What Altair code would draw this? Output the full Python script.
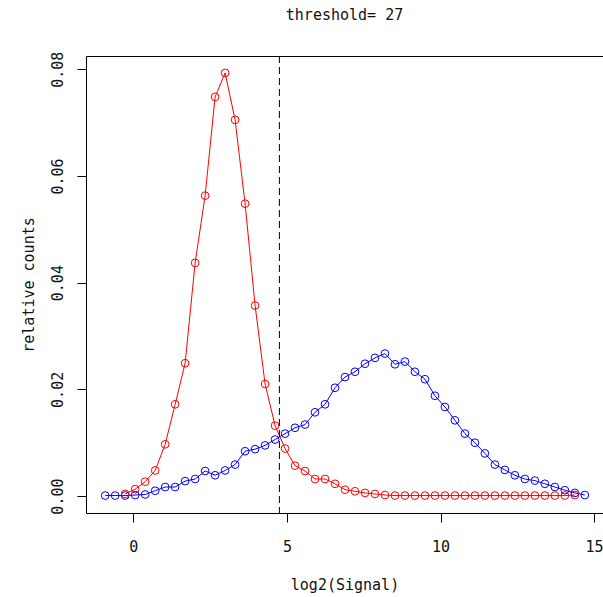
import altair as alt
import pandas as pd

# log2(Signal) bin positions (shared grid for both curves)
x_grid = [-0.916, -0.591, -0.265, 0.060, 0.385, 0.711, 1.036, 1.361, 1.686, 2.012,
          2.337, 2.662, 2.988, 3.313, 3.638, 3.964, 4.289, 4.614, 4.939, 5.265,
          5.590, 5.915, 6.241, 6.566, 6.891, 7.217, 7.542, 7.867, 8.192, 8.518,
          8.843, 9.168, 9.494, 9.819, 10.144, 10.470, 10.795, 11.120, 11.445, 11.771,
          12.096, 12.421, 12.747, 13.072, 13.397, 13.723, 14.048, 14.373, 14.698]

blue_counts = [0.0001, 0.0001, 0.0001, 0.0002, 0.0003, 0.0010, 0.0017, 0.0017, 0.0028, 0.0032,
               0.0047, 0.0039, 0.0048, 0.0059, 0.0084, 0.0088, 0.0095, 0.0106, 0.0117, 0.0128,
               0.0134, 0.0157, 0.0172, 0.0203, 0.0223, 0.0233, 0.0248, 0.0259, 0.0267, 0.0247,
               0.0252, 0.0233, 0.0219, 0.0188, 0.0167, 0.0142, 0.0117, 0.0100, 0.0080, 0.0059,
               0.0049, 0.0039, 0.0032, 0.0029, 0.0023, 0.0017, 0.0011, 0.0006, 0.0002]

# red curve starts at the third grid position and ends at the second-to-last one
red_x = x_grid[2:48]
red_counts = [0.0004, 0.0013, 0.0027, 0.0048, 0.0097, 0.0172, 0.0249, 0.0437, 0.0563, 0.0748,
              0.0793, 0.0705, 0.0548, 0.0357, 0.0210, 0.0132, 0.0089, 0.0057, 0.0047, 0.0032,
              0.0032, 0.0023, 0.0012, 0.0009, 0.0006, 0.0004, 0.0002, 0.0001, 0.0001, 0.0001,
              0.0001, 0.0001, 0.0001, 0.0001, 0.0001, 0.0001, 0.0001, 0.0001, 0.0001, 0.0001,
              0.0001, 0.0001, 0.0001, 0.0001, 0.0001, 0.0002]

threshold_log2 = [4.755]  # log2(27)
x_ticks = [0, 5, 10, 15]
y_ticks = [0.00, 0.02, 0.04, 0.06, 0.08]

FONT = "DejaVu Sans Mono"
FS = 15
W, H = 517, 457

df = pd.concat([
    pd.DataFrame({"x": x_grid, "y": blue_counts, "series": "blue", "ord": 0}),
    pd.DataFrame({"x": red_x, "y": red_counts, "series": "red", "ord": 1}),
], ignore_index=True)

xscale = alt.Scale(domain=[-1.541, 15.29], nice=False, zero=False)
yscale = alt.Scale(domain=[-0.00317, 0.08247], nice=False, zero=False)
cscale = alt.Scale(domain=["blue", "red"], range=["#0000FF", "#FF0000"])

x_axis = alt.Axis(values=x_ticks, format="d", title="log2(Signal)", grid=False,
                  domain=True, domainColor="#000", tickColor="#000", tickSize=9,
                  labelFont=FONT, labelFontSize=FS, labelColor="#111",
                  labelBaseline="alphabetic", labelPadding=29, labelFlush=False,
                  titleFont=FONT, titleFontSize=FS, titleFontWeight="normal", titleColor="#111",
                  titleBaseline="alphabetic", titleAlign="center", titleX=W / 2, titleY=76)
y_axis = alt.Axis(values=y_ticks, format=".2f", title="relative counts", grid=False,
                  domain=True, domainColor="#000", tickColor="#000", tickSize=9,
                  labelFont=FONT, labelFontSize=FS, labelColor="#111",
                  labelAngle=-90, labelAlign="center", labelBaseline="alphabetic",
                  labelPadding=15, labelFlush=False,
                  titleFont=FONT, titleFontSize=FS, titleFontWeight="normal", titleColor="#111",
                  titleAngle=-90, titleBaseline="alphabetic", titleAlign="center",
                  titleX=-53, titleY=H / 2)

base = alt.Chart(df)
lines = base.mark_line(strokeWidth=1).encode(
    x=alt.X("x:Q", scale=xscale, axis=x_axis),
    y=alt.Y("y:Q", scale=yscale, axis=y_axis),
    color=alt.Color("series:N", scale=cscale, legend=None),
    detail="series:N",
)
points = base.mark_point(filled=False, size=60, strokeWidth=1, opacity=1).encode(
    x=alt.X("x:Q", scale=xscale, axis=None),
    y=alt.Y("y:Q", scale=yscale, axis=y_axis),
    color=alt.Color("series:N", scale=cscale, legend=None),
    order="ord:Q",
)
rule = alt.Chart(pd.DataFrame({"t": threshold_log2})).mark_rule(
    color="#000", strokeWidth=1, strokeDash=[7, 4]
).encode(
    x=alt.X("t:Q", scale=xscale,
            axis=alt.Axis(orient="top", labels=False, ticks=False, grid=False, title=None,
                          domain=True, domainColor="#000")),
)

chart = alt.layer(lines, points, rule).resolve_axis(x="independent").properties(
    width=W, height=H,
    title=alt.Title("threshold= 27", font=FONT, fontSize=FS, fontWeight="normal",
                    color="#111", anchor="middle", baseline="alphabetic", offset=16),
    autosize="none",
    padding={"left": 86, "top": 56, "right": 0, "bottom": 84},
).configure_view(stroke=None).configure(background="white")

chart.save("out.html", embed_options={"renderer": "svg", "actions": False})
